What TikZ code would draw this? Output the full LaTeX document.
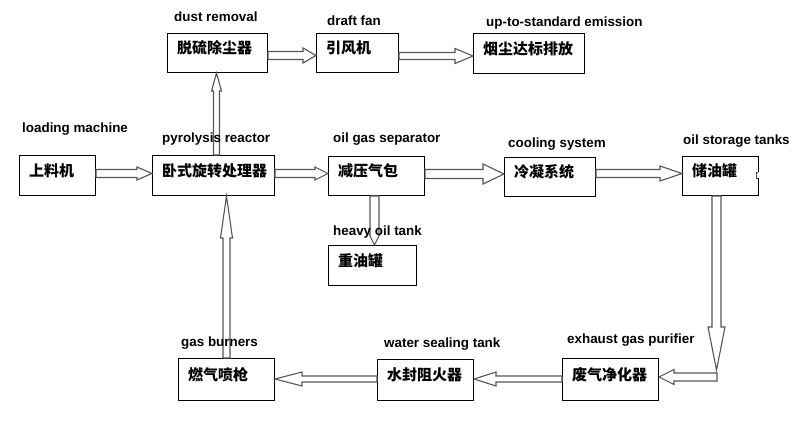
\documentclass[tikz,border=0pt]{standalone}
\usepackage{fontspec}
\setmainfont{Liberation Sans}
\newfontfamily\cjk{Noto Sans CJK SC}
\usetikzlibrary{calc}
\tikzset{
  box/.style={draw=black, line width=1pt, fill=white, inner sep=0pt, anchor=north west},
  cn/.style={font=\cjk\bfseries\fontsize{15}{18}\selectfont, inner sep=0pt, anchor=base west},
  lab/.style={font=\bfseries\fontsize{13.4}{16}\selectfont, inner sep=0pt, anchor=base west},
  blkarrow/.style={draw={rgb,255:red,85;green,85;blue,85}, line width=1.1pt, fill=white, line join=miter}
}
% horizontal block arrow: from #1 to #2 (tip), shaft half #3, head half #4, head length #5, direction #6 (1 right, -1 left)
\newcommand\blkH[6]{\draw[blkarrow] ([yshift=-#3pt]#1) -- ([xshift={-(#6)*#5pt},yshift=-#3pt]#2) -- ([xshift={-(#6)*#5pt},yshift=-#4pt]#2) -- (#2) -- ([xshift={-(#6)*#5pt},yshift=#4pt]#2) -- ([xshift={-(#6)*#5pt},yshift=#3pt]#2) -- ([yshift=#3pt]#1) -- cycle;}
% vertical block arrow: direction #6 (1 up, -1 down)
\newcommand\blkV[6]{\draw[blkarrow] ([xshift=-#3pt]#1) -- ([yshift={-(#6)*#5pt},xshift=-#3pt]#2) -- ([yshift={-(#6)*#5pt},xshift=-#4pt]#2) -- (#2) -- ([yshift={-(#6)*#5pt},xshift=#4pt]#2) -- ([yshift={-(#6)*#5pt},xshift=#3pt]#2) -- ([xshift=#3pt]#1) -- cycle;}
% box: name, x, y, w, h, text
\newcommand\bx[6]{%
  \node[box, minimum width=#4pt, minimum height=#5pt] (#1) at (#2,#3) {};
  \node[cn] (#1t) at ([xshift=10pt, yshift=-1pt]#1.west) {#6};}
\begin{document}
\begin{tikzpicture}[x=1pt, y=-1pt]
\fill[white] (0,0) rectangle (793,435);
\path[use as bounding box] (0,0) rectangle (793,435);

% boxes
\bx{dust}{167}{33}{100}{39}{脱硫除尘器}
\bx{fan}{316}{33}{82}{39}{引风机}
\bx{emit}{473}{33}{111}{40}{烟尘达标排放}
\bx{load}{19}{155}{76}{40}{上料机}
\bx{reactor}{152}{155}{122}{40}{卧式旋转处理器}
\bx{sep}{328}{156}{96}{39}{减压气包}
\bx{cool}{504}{157}{91}{39}{冷凝系统}
\bx{store}{682}{156}{76}{39}{储油罐}
\bx{heavy}{328}{245}{88}{40}{重油罐}
\bx{burn}{178}{358}{96}{42}{燃气喷枪}
\bx{seal}{377}{359}{96}{41}{水封阻火器}
\bx{purif}{562}{358}{96}{42}{废气净化器}

% notch on the oil storage tank
\fill[white] (757,172) rectangle (759.5,178);
\draw[line width=0.8pt, draw=black!70] (758,172) -- (756,172) -- (756,178) -- (758,178);

% connector end points
\coordinate (a1) at ([yshift=-2.5pt]dust.east);
\coordinate (a2) at (a1 -| fan.west);
\coordinate (b1) at ([yshift=-3pt]fan.east);
\coordinate (b2) at (b1 -| emit.west);
\coordinate (c1) at ([yshift=2pt]load.east);
\coordinate (c2) at (c1 -| reactor.west);
\coordinate (d1) at ([yshift=2pt]reactor.east);
\coordinate (d2) at (d1 -| sep.west);
\coordinate (e1) at ([yshift=2pt]sep.east);
\coordinate (e2) at (e1 -| cool.west);
\coordinate (f1) at ([yshift=3.5pt]cool.east);
\coordinate (f2) at (f1 -| store.west);
\coordinate (g2) at ([xshift=-1pt]dust.south);
\coordinate (g1) at (g2 |- reactor.north);
\coordinate (h1) at (226.5,0 |- burn.north);
\coordinate (h2) at (h1 |- reactor.south);
\coordinate (i1) at (374.5,0 |- sep.south);
\coordinate (i2) at (i1 |- heavy.north);
\coordinate (turn) at (716.5,370);
\coordinate (j1) at (turn |- store.south);
\coordinate (k1) at (717,377);
\coordinate (k2) at (k1 -| purif.east);
\coordinate (m1) at (0,379 -| purif.west);
\coordinate (m2) at (m1 -| seal.east);
\coordinate (n1) at (m1 -| seal.west);
\coordinate (n2) at (n1 -| burn.east);

% connectors
\blkH{a1}{a2}{4}{7.5}{13}{1}
\blkH{b1}{b2}{3.5}{7.5}{18}{1}
\blkH{c1}{c2}{4}{6.5}{15}{1}
\blkH{d1}{d2}{4}{6.5}{13}{1}
\blkH{e1}{e2}{4.5}{10}{21}{1}
\blkH{f1}{f2}{4}{7.5}{22}{1}
\blkV{g1}{g2}{3}{5}{18}{1}
\blkV{h1}{h2}{3.5}{6}{42}{1}
\blkV{i1}{i2}{4.5}{5}{10}{-1}
\blkV{j1}{turn}{4.5}{8.5}{43}{-1}
\blkH{k1}{k2}{4}{7.5}{15}{-1}
\blkH{m1}{m2}{3}{7}{22}{-1}
\blkH{n1}{n2}{3}{7}{27}{-1}

% labels (on top of the connectors)
\node[lab] (ldust) at (174,22) {dust removal};
\node[lab] (lfan) at (327,26) {draft fan};
\node[lab] (lemit) at (486,26.5) {up-to-standard emission};
\node[lab] (lload) at (22,133) {loading machine};
\node[lab] (lreactor) at (162,143) {pyrolysis reactor};
\node[lab] (lsep) at (333,143) {oil gas separator};
\node[lab] (lcool) at (508,148) {cooling system};
\node[lab] (lstore) at (683,144.5) {oil storage tanks};
\node[lab] (lheavy) at (333,235.5) {heavy oil tank};
\node[lab] (lburn) at (181,346.5) {gas burners};
\node[lab] (lseal) at (384,347.5) {water sealing tank};
\node[lab] (lpurif) at (567,344) {exhaust gas purifier};
\end{tikzpicture}
\end{document}
